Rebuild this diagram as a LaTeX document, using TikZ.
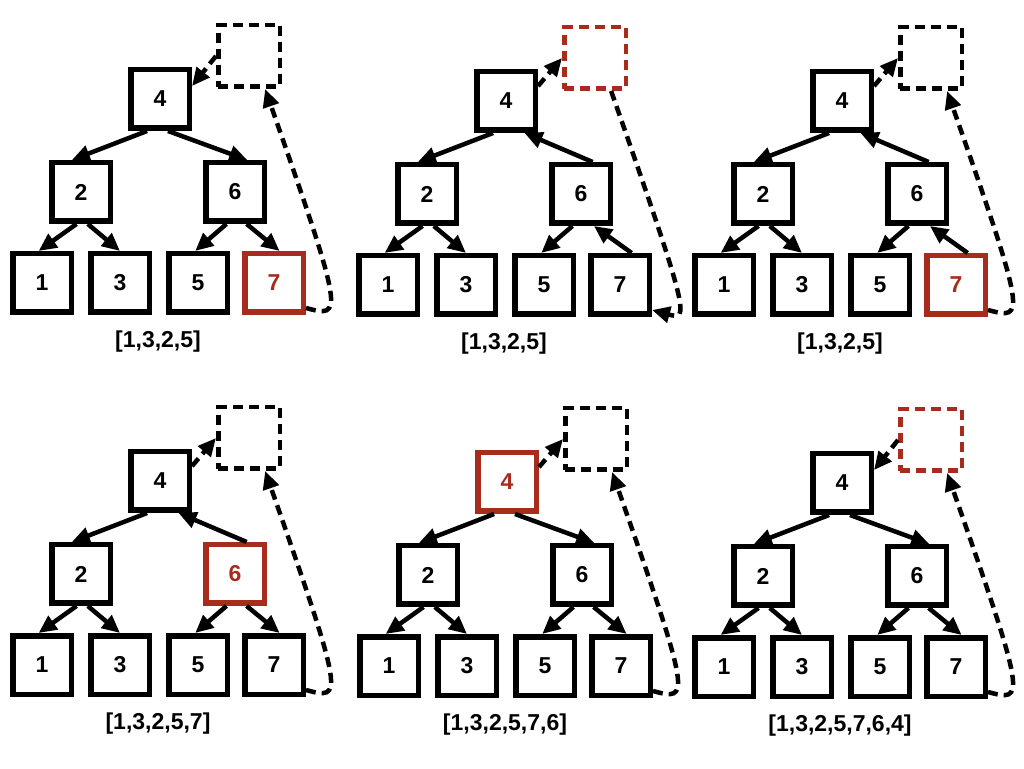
\documentclass[tikz,border=0pt]{standalone}
\usepackage{fontspec}
\setmainfont{Liberation Sans}
\usetikzlibrary{arrows.meta}
\definecolor{hlred}{RGB}{168,44,30}

\begin{document}
\begin{tikzpicture}[x=1pt, y=1pt,
    key/.style={draw, line width=5.5pt, minimum size=58.5pt, inner sep=0pt,
        font=\bfseries\fontsize{23}{23}\selectfont},
    hot/.style={draw=hlred, text=hlred},
    slot/.style={draw, line width=4.5pt, dash pattern=on 10pt off 6pt, minimum size=61.5pt},
    list/.style={font=\bfseries\fontsize{23}{23}\selectfont},
    link/.style={line width=4.5pt, -{Triangle[length=18pt, width=16pt]}},
    move/.style={link, dash pattern=on 10pt off 6pt}]

    \useasboundingbox (0,0) rectangle (1024,768);

    % step 1: take the last leaf
    \begin{scope}
        \node[key] (a4) at (160,669) {4};
        \node[key] (a2) at (81,576) {2};
        \node[key] (a6) at (235,576) {6};
        \node[key] (a1) at (42,485) {1};
        \node[key] (a3) at (120,485) {3};
        \node[key] (a5) at (198,485) {5};
        \node[key, hot] (a7) at (274,485) {7};
        \node[slot] (aS) at (249,712) {};
        \node[list] (aL) at (158,426) {[1,3,2,5]};

        \draw[link] (a4.-112) -- (a2.106);
        \draw[link] (a4.-76) -- (a6.69);
        \draw[link] (a2.-98) -- (a1.96);
        \draw[link] (a2.-78) -- (a3.north);
        \draw[link] (a6.-105) -- (a5.95);
        \draw[link] (a6.-70) -- (a7.80);
        \draw[move] (aS.west) -- (a4.22);
        \draw[move] (a7.-38) .. controls +(37,-10) and +(80,-228) .. (aS.-64);
    \end{scope}

    % step 2
    \begin{scope}[shift={(346,-2)}]
        \node[key] (b4) at (160,669) {4};
        \node[key] (b2) at (81,576) {2};
        \node[key] (b6) at (235,576) {6};
        \node[key] (b1) at (42,485) {1};
        \node[key] (b3) at (120,485) {3};
        \node[key] (b5) at (198,485) {5};
        \node[key] (b7) at (274,485) {7};
        \node[slot, hot] (bS) at (249,712) {};
        \node[list] (bL) at (158,426) {[1,3,2,5]};

        \draw[link] (b4.-112) -- (b2.106);
        \draw[link] (b6.70) -- (b4.-60);
        \draw[link] (b2.-98) -- (b1.96);
        \draw[link] (b2.-78) -- (b3.north);
        \draw[link] (b6.-105) -- (b5.95);
        \draw[link] (b7.70) -- (b6.-68);
        \draw[move] (b4.25) -- (bS.west);
        \draw[move] (bS.-64) .. controls +(80,-228) and +(37,-10) .. (b7.-38);
    \end{scope}

    % step 3
    \begin{scope}[shift={(682,-2)}]
        \node[key] (c4) at (160,669) {4};
        \node[key] (c2) at (81,576) {2};
        \node[key] (c6) at (235,576) {6};
        \node[key] (c1) at (42,485) {1};
        \node[key] (c3) at (120,485) {3};
        \node[key] (c5) at (198,485) {5};
        \node[key, hot] (c7) at (274,485) {7};
        \node[slot] (cS) at (249,712) {};
        \node[list] (cL) at (158,426) {[1,3,2,5]};

        \draw[link] (c4.-112) -- (c2.106);
        \draw[link] (c6.70) -- (c4.-60);
        \draw[link] (c2.-98) -- (c1.96);
        \draw[link] (c2.-78) -- (c3.north);
        \draw[link] (c6.-105) -- (c5.95);
        \draw[link] (c7.70) -- (c6.-68);
        \draw[move] (c4.25) -- (cS.west);
        \draw[move] (c7.-38) .. controls +(37,-10) and +(80,-228) .. (cS.-64);
    \end{scope}

    % step 4
    \begin{scope}[shift={(0,-382)}]
        \node[key] (d4) at (160,669) {4};
        \node[key] (d2) at (81,576) {2};
        \node[key, hot] (d6) at (235,576) {6};
        \node[key] (d1) at (42,485) {1};
        \node[key] (d3) at (120,485) {3};
        \node[key] (d5) at (198,485) {5};
        \node[key] (d7) at (274,485) {7};
        \node[slot] (dS) at (249,712) {};
        \node[list] (dL) at (158,426) {[1,3,2,5,7]};

        \draw[link] (d4.-112) -- (d2.106);
        \draw[link] (d6.70) -- (d4.-60);
        \draw[link] (d2.-98) -- (d1.96);
        \draw[link] (d2.-78) -- (d3.north);
        \draw[link] (d6.-105) -- (d5.95);
        \draw[link] (d6.-70) -- (d7.80);
        \draw[move] (d4.25) -- (dS.west);
        \draw[move] (d7.-38) .. controls +(37,-10) and +(80,-228) .. (dS.-64);
    \end{scope}

    % step 5
    \begin{scope}[shift={(347,-383)}]
        \node[key, hot] (e4) at (160,669) {4};
        \node[key] (e2) at (81,576) {2};
        \node[key] (e6) at (235,576) {6};
        \node[key] (e1) at (42,485) {1};
        \node[key] (e3) at (120,485) {3};
        \node[key] (e5) at (198,485) {5};
        \node[key] (e7) at (274,485) {7};
        \node[slot] (eS) at (249,712) {};
        \node[list] (eL) at (158,426) {[1,3,2,5,7,6]};

        \draw[link] (e4.-112) -- (e2.106);
        \draw[link] (e4.-76) -- (e6.69);
        \draw[link] (e2.-98) -- (e1.96);
        \draw[link] (e2.-78) -- (e3.north);
        \draw[link] (e6.-105) -- (e5.95);
        \draw[link] (e6.-70) -- (e7.80);
        \draw[move] (e4.25) -- (eS.west);
        \draw[move] (e7.-38) .. controls +(37,-10) and +(80,-228) .. (eS.-64);
    \end{scope}

    % step 6
    \begin{scope}[shift={(682,-384)}]
        \node[key] (f4) at (160,669) {4};
        \node[key] (f2) at (81,576) {2};
        \node[key] (f6) at (235,576) {6};
        \node[key] (f1) at (42,485) {1};
        \node[key] (f3) at (120,485) {3};
        \node[key] (f5) at (198,485) {5};
        \node[key] (f7) at (274,485) {7};
        \node[slot, hot] (fS) at (249,712) {};
        \node[list] (fL) at (158,426) {[1,3,2,5,7,6,4]};

        \draw[link] (f4.-112) -- (f2.106);
        \draw[link] (f4.-76) -- (f6.69);
        \draw[link] (f2.-98) -- (f1.96);
        \draw[link] (f2.-78) -- (f3.north);
        \draw[link] (f6.-105) -- (f5.95);
        \draw[link] (f6.-70) -- (f7.80);
        \draw[move] (fS.west) -- (f4.22);
        \draw[move] (f7.-38) .. controls +(37,-10) and +(80,-228) .. (fS.-64);
    \end{scope}
\end{tikzpicture}
\end{document}
